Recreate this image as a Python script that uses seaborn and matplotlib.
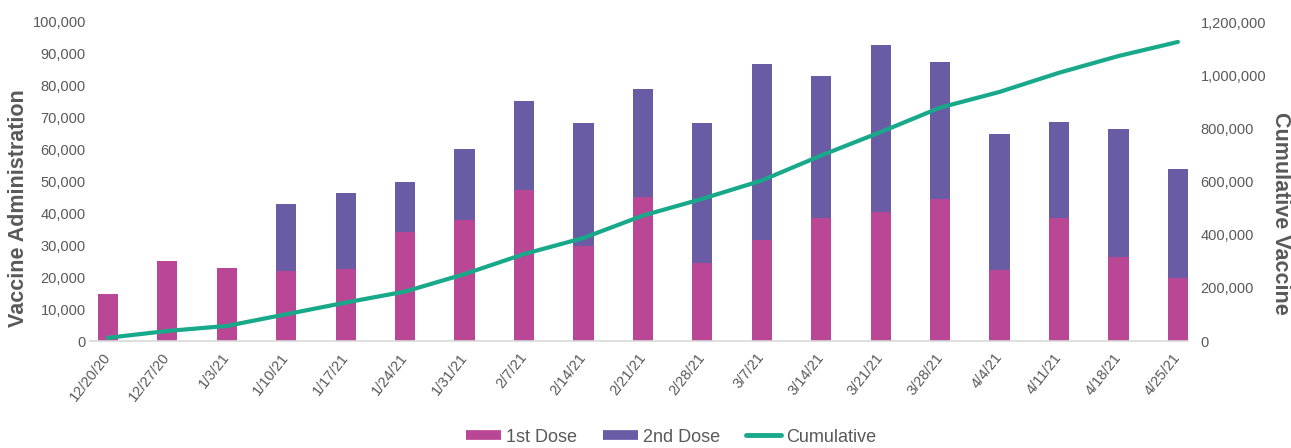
import matplotlib
matplotlib.use("Agg")
import matplotlib.pyplot as plt
from matplotlib.lines import Line2D
from matplotlib.ticker import FuncFormatter
import seaborn as sns
import pandas as pd
import numpy as np

# ---- data ----
dates = ["12/20/20", "12/27/20", "1/3/21", "1/10/21", "1/17/21", "1/24/21", "1/31/21",
         "2/7/21", "2/14/21", "2/21/21", "2/28/21", "3/7/21", "3/14/21", "3/21/21",
         "3/28/21", "4/4/21", "4/11/21", "4/18/21", "4/25/21"]
first_dose = [14700, 25200, 22900, 22000, 22600, 34200, 37900, 47200, 29900, 45100,
              24300, 31700, 38500, 40300, 44600, 22200, 38500, 26400, 19900]
second_dose = [0, 0, 0, 20800, 23800, 15500, 22300, 28100, 38400, 34000,
               44000, 55000, 44600, 52600, 43000, 42800, 30100, 40000, 34100]
cumulative = [12000, 37700, 56600, 100600, 144600, 186000, 251700, 327000, 387600, 471800,
              534800, 603800, 698000, 786000, 878000, 937000, 1009000, 1072000, 1125000]
left_ticks = [0, 10000, 20000, 30000, 40000, 50000, 60000, 70000, 80000, 90000, 100000]
right_ticks = [0, 200000, 400000, 600000, 800000, 1000000, 1200000]

MAGENTA = "#BA4796"
PURPLE = "#6A5BA5"
TEAL = "#17A98A"
GRAY = "#595959"

sns.set_theme(style="white")
plt.rcParams['font.family'] = ['Liberation Sans', 'DejaVu Sans']

df = pd.DataFrame({"date": dates, "first": first_dose, "second": second_dose})
df["total"] = df["first"] + df["second"]

W, H = 1291, 448
fig = plt.figure(figsize=(W / 100, H / 100), dpi=100)
ax = fig.add_axes([90 / W, 1 - 341 / H, (1188 - 90) / W, (341 - 22) / H])

sns.barplot(data=df, x="date", y="total", order=dates, color=PURPLE, saturation=1,
            width=0.34, linewidth=0, ax=ax)
sns.barplot(data=df, x="date", y="first", order=dates, color=MAGENTA, saturation=1,
            width=0.34, linewidth=0, ax=ax)

ax2 = ax.twinx()
sns.lineplot(x=np.arange(len(dates)), y=cumulative, ax=ax2, color=TEAL, linewidth=3)

for a in (ax, ax2):
    a.set_xlim(-0.3, 18.17)
    for s in a.spines.values():
        s.set_visible(False)
ax.spines["bottom"].set_visible(True)
ax.spines["bottom"].set_color("#D9D9D9")
ax.spines["bottom"].set_linewidth(1.2)

ax.set_ylim(0, 100000)
ax2.set_ylim(0, 1200000)
ax.set_yticks(left_ticks)
ax2.set_yticks(right_ticks)
fmt = FuncFormatter(lambda v, p: f"{int(v):,}")
ax.yaxis.set_major_formatter(fmt)
ax2.yaxis.set_major_formatter(fmt)

ax.set_xticks(range(len(dates)))
ax.set_xticklabels(dates, rotation=52, ha="right", va="center", rotation_mode="anchor")
ax.tick_params(axis="x", length=0, pad=10, labelsize=10.5, labelcolor=GRAY)
ax.tick_params(axis="y", length=0, pad=3, labelsize=10.5, labelcolor=GRAY)
ax2.tick_params(axis="y", length=0, pad=9, labelsize=10.5, labelcolor=GRAY)
ax.set_xlabel("")

ax.set_ylabel("Vaccine Administration", fontsize=15.5, fontweight="bold", color=GRAY)
ax.yaxis.set_label_coords((19 - 90) / 1098, (341 - 208) / 319)
ax.yaxis.label.set_va("center")
ax.yaxis.label.set_ha("center")
ax2.set_ylabel("Cumulative Vaccine", fontsize=15.5, fontweight="bold", color=GRAY, rotation=270)
ax2.yaxis.set_label_coords((1280 - 90) / 1098, (341 - 213) / 319)
ax2.yaxis.label.set_va("center")
ax2.yaxis.label.set_ha("center")

handles = [Line2D([], [], color=MAGENTA, lw=7, solid_capstyle="butt"),
           Line2D([], [], color=PURPLE, lw=7, solid_capstyle="butt"),
           Line2D([], [], color=TEAL, lw=3.5, solid_capstyle="round")]
fig.legend(handles, ["1st Dose", "2nd Dose", "Cumulative"], loc="center",
           bbox_to_anchor=(671 / W, 1 - 437 / H), ncol=3, frameon=False,
           fontsize=13, handlelength=1.95, handletextpad=0.3, columnspacing=1.4,
           labelcolor=GRAY)

fig.savefig("out.png", dpi=100)
